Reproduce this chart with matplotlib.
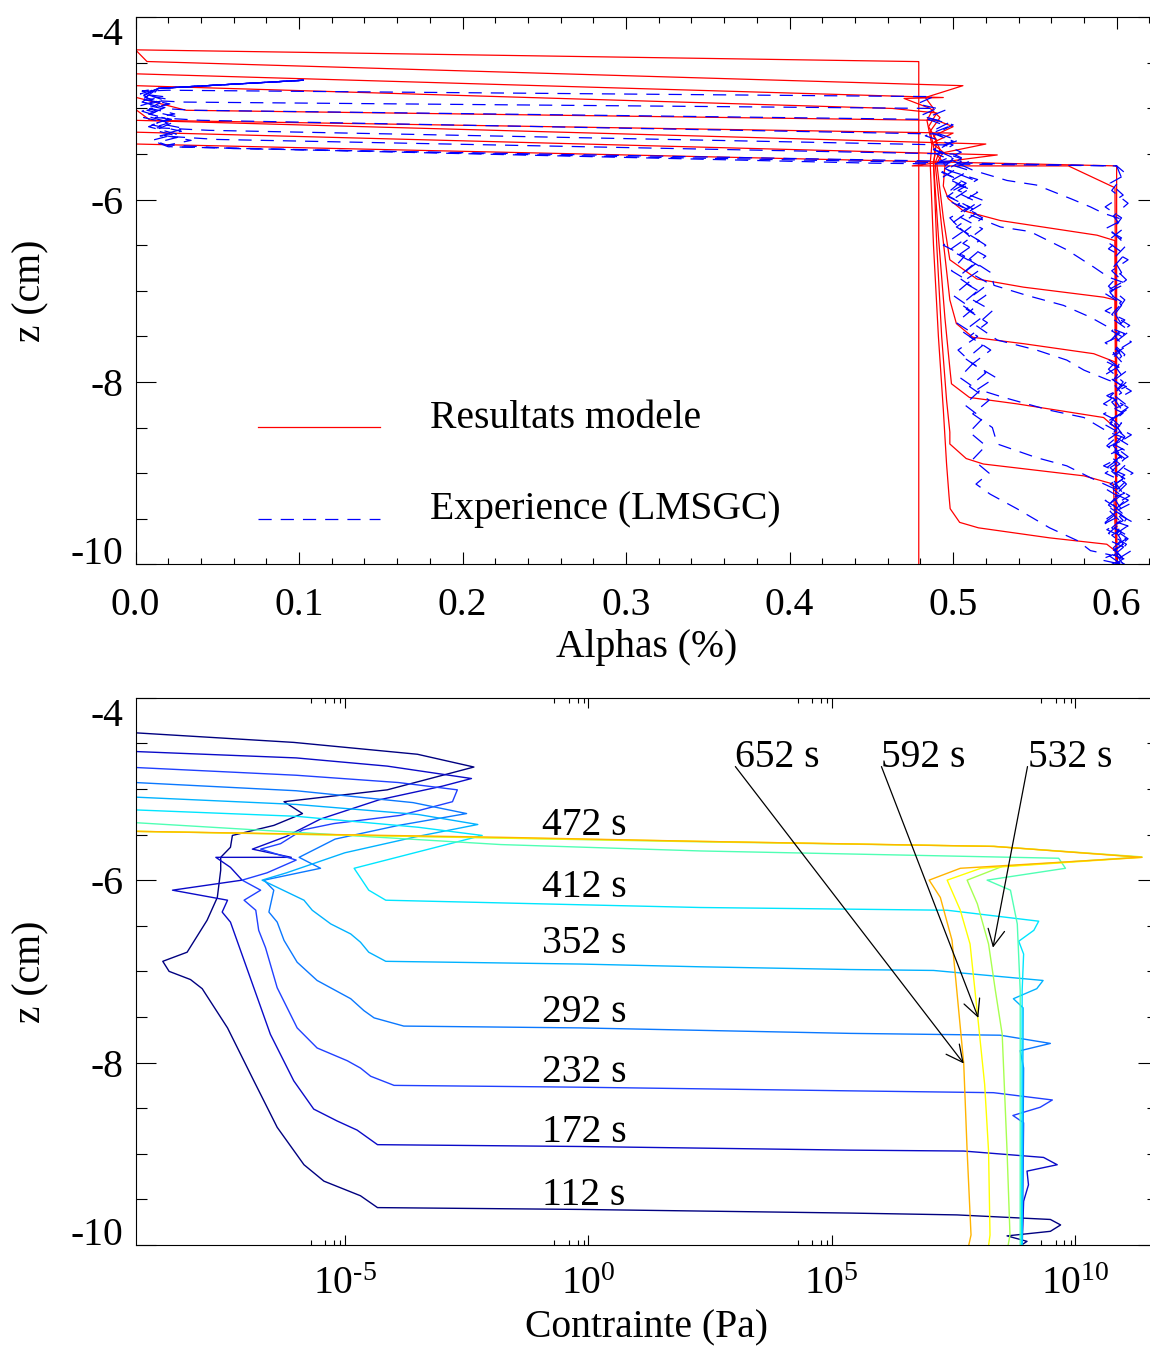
import numpy as np
import matplotlib
matplotlib.use('Agg')
from matplotlib import pyplot as plt
from matplotlib.ticker import FixedLocator, FixedFormatter, FormatStrFormatter, NullFormatter

plt.rcParams['font.family'] = ['Liberation Serif', 'DejaVu Serif']
plt.rcParams['mathtext.fontset'] = 'custom'
plt.rcParams['mathtext.rm'] = 'Liberation Serif'
plt.rcParams['axes.unicode_minus'] = False
plt.rcParams['lines.scale_dashes'] = False
FS = 28.5

# ---------------- top panel: alpha(z) profiles ----------------
# model (red), pairs of (alpha, z)
model_t0 = [(0.0, -4.0), (0.0, -4.357), (0.479, -4.486), (0.479, -10.0)]
model_112 = [(0.0, -4.0), (0.0, -4.357), (0.007, -4.485), (0.506, -4.75), (0.483, -4.88),
             (0.488, -5.0), (0.484, -5.13), (0.487, -5.4), (0.486, -5.6), (0.488, -6.5),
             (0.491, -7.5), (0.494, -8.3), (0.496, -8.9), (0.4975, -9.25), (0.4982, -9.39),
             (0.504, -9.54), (0.5155, -9.60), (0.559, -9.71), (0.594, -9.78), (0.599, -9.85),
             (0.6, -10.0)]
model_172 = [(0.0, -4.0), (0.0, -4.62), (0.494, -4.88), (0.470, -4.89), (0.486, -5.0),
             (0.492, -5.1), (0.486, -5.25), (0.489, -5.5), (0.488, -5.6), (0.490, -6.5),
             (0.493, -7.5), (0.496, -8.2), (0.498, -8.55), (0.498, -8.68), (0.508, -8.84),
             (0.5185, -8.90), (0.580, -9.03), (0.598, -9.12), (0.6, -10.0)]
model_232 = [(0.0, -4.0), (0.0, -4.75), (0.463, -5.0), (0.49, -5.05), (0.485, -5.2),
             (0.49, -5.35), (0.488, -5.6), (0.491, -6.4), (0.495, -7.3), (0.498, -7.85),
             (0.499, -8.02), (0.510, -8.17), (0.539, -8.24), (0.592, -8.39), (0.599, -8.50),
             (0.6, -10.0)]
model_292 = [(0.0, -4.0), (0.0, -4.877), (0.031, -5.02), (0.49, -5.13), (0.5, -5.2),
             (0.488, -5.3), (0.492, -5.45), (0.489, -5.6), (0.493, -6.3), (0.498, -7.1),
             (0.502, -7.36), (0.512, -7.51), (0.543, -7.58), (0.586, -7.69), (0.599, -7.78),
             (0.6, -10.0)]
model_352 = [(0.0, -4.0), (0.0, -5.01), (0.009, -5.13), (0.500, -5.27), (0.487, -5.38),
             (0.494, -5.48), (0.49, -5.6), (0.494, -6.2), (0.497, -6.55), (0.498, -6.66),
             (0.5145, -6.87), (0.543, -6.96), (0.592, -7.07), (0.599, -7.10), (0.6, -10.0)]
model_412 = [(0.0, -4.0), (0.0, -5.13), (0.520, -5.39), (0.49, -5.5), (0.495, -5.62),
             (0.494, -5.85), (0.497, -5.99), (0.506, -6.12), (0.529, -6.23), (0.588, -6.39),
             (0.599, -6.45), (0.6, -10.0)]
model_472 = [(0.0, -4.0), (0.0, -5.26), (0.527, -5.51), (0.475, -5.63), (0.5705, -5.63),
             (0.599, -5.87), (0.6, -10.0)]
model_532 = [(0.0, -4.0), (0.0, -5.39), (0.6, -5.63), (0.6, -10.0)]
model_profiles = [model_t0, model_112, model_172, model_232, model_292, model_352,
                  model_412, model_472, model_532]

# experience LMSGC (blue dashed), pairs of (alpha, z)
exp_112 = [(0.103, -4.69), (0.014, -4.78), (0.004, -4.81), (0.02, -4.80), (0.488, -4.87),
           (0.478, -4.95), (0.495, -5.02), (0.484, -5.10), (0.50, -5.18), (0.49, -5.27),
           (0.503, -5.35), (0.488, -5.45), (0.50, -5.55), (0.492, -5.68), (0.505, -5.8),
           (0.495, -5.95), (0.51, -6.08), (0.498, -6.2), (0.506, -6.35), (0.494, -6.5),
           (0.507, -6.62), (0.499, -6.78), (0.51, -6.9), (0.5, -7.05), (0.512, -7.2),
           (0.502, -7.35), (0.515, -7.5), (0.503, -7.65), (0.512, -7.8), (0.504, -7.95),
           (0.516, -8.1), (0.507, -8.25), (0.518, -8.4), (0.51, -8.55), (0.52, -8.7),
           (0.512, -8.85), (0.522, -9.0), (0.514, -9.12), (0.5226, -9.23), (0.539, -9.39),
           (0.559, -9.60), (0.576, -9.74), (0.584, -9.85), (0.597, -9.9), (0.59, -9.95),
           (0.603, -10.0)]
exp_172 = [(0.103, -4.69), (0.014, -4.78), (0.003, -4.84), (0.017, -4.87), (0.007, -4.91),
           (0.03, -4.93), (0.49, -5.0), (0.48, -5.08), (0.497, -5.16), (0.486, -5.26),
           (0.5, -5.36), (0.49, -5.46), (0.505, -5.58), (0.493, -5.7), (0.508, -5.82),
           (0.497, -5.96), (0.512, -6.1), (0.5, -6.25), (0.51, -6.4), (0.498, -6.55),
           (0.513, -6.7), (0.503, -6.85), (0.515, -7.0), (0.505, -7.15), (0.517, -7.3),
           (0.506, -7.45), (0.518, -7.6), (0.508, -7.75), (0.52, -7.9), (0.51, -8.05),
           (0.522, -8.2), (0.512, -8.35), (0.524, -8.5), (0.527, -8.68), (0.551, -8.83),
           (0.5695, -8.92), (0.584, -9.05), (0.596, -9.15), (0.605, -9.22), (0.593, -9.3),
           (0.602, -9.4), (0.594, -9.5), (0.607, -9.58), (0.597, -9.68), (0.604, -9.78),
           (0.595, -9.88), (0.606, -9.95), (0.6, -10.0)]
exp_232 = [(0.103, -4.69), (0.014, -4.78), (0.005, -4.85), (0.02, -4.9), (0.006, -4.96),
           (0.016, -5.0), (0.036, -5.02), (0.485, -5.12), (0.497, -5.2), (0.483, -5.3),
           (0.5, -5.4), (0.49, -5.5), (0.506, -5.62), (0.494, -5.75), (0.51, -5.88),
           (0.498, -6.02), (0.514, -6.15), (0.502, -6.3), (0.516, -6.45), (0.504, -6.6),
           (0.518, -6.75), (0.506, -6.9), (0.52, -7.05), (0.508, -7.2), (0.521, -7.35),
           (0.51, -7.5), (0.523, -7.65), (0.512, -7.8), (0.526, -7.95), (0.515, -8.08),
           (0.531, -8.17), (0.559, -8.31), (0.58, -8.39), (0.595, -8.55), (0.606, -8.62),
           (0.594, -8.72), (0.603, -8.82), (0.592, -8.92), (0.605, -9.02), (0.596, -9.12),
           (0.608, -9.25), (0.598, -9.35), (0.604, -9.45), (0.593, -9.55), (0.603, -9.65),
           (0.597, -9.75), (0.609, -9.85), (0.6, -9.95), (0.605, -10.0)]
exp_292 = [(0.103, -4.69), (0.014, -4.78), (0.008, -4.83), (0.004, -4.9), (0.021, -4.95),
           (0.009, -5.0), (0.024, -5.06), (0.012, -5.1), (0.04, -5.13), (0.49, -5.28),
           (0.5, -5.36), (0.488, -5.45), (0.505, -5.55), (0.495, -5.66), (0.512, -5.78),
           (0.5, -5.9), (0.515, -6.03), (0.503, -6.18), (0.518, -6.32), (0.506, -6.48),
           (0.52, -6.62), (0.508, -6.78), (0.522, -6.92), (0.51, -7.08), (0.524, -7.22),
           (0.514, -7.38), (0.527, -7.54), (0.551, -7.65), (0.5695, -7.76), (0.58, -7.87),
           (0.595, -7.98), (0.606, -8.05), (0.594, -8.15), (0.604, -8.25), (0.592, -8.35),
           (0.603, -8.45), (0.597, -8.58), (0.608, -8.7), (0.595, -8.8), (0.602, -8.9),
           (0.593, -9.0), (0.605, -9.1), (0.598, -9.22), (0.61, -9.32), (0.599, -9.42),
           (0.604, -9.52), (0.594, -9.62), (0.606, -9.72), (0.597, -9.82), (0.603, -9.92),
           (0.598, -10.0)]
exp_352 = [(0.103, -4.69), (0.014, -4.78), (0.006, -4.84), (0.016, -4.9), (0.003, -4.97),
           (0.013, -5.03), (0.005, -5.1), (0.02, -5.16), (0.011, -5.21), (0.045, -5.24),
           (0.495, -5.40), (0.505, -5.48), (0.492, -5.58), (0.51, -5.68), (0.498, -5.8),
           (0.515, -5.92), (0.503, -6.05), (0.518, -6.2), (0.507, -6.35), (0.52, -6.5),
           (0.51, -6.65), (0.523, -6.8), (0.525, -6.94), (0.545, -7.05), (0.5675, -7.16),
           (0.584, -7.29), (0.595, -7.4), (0.605, -7.47), (0.593, -7.57), (0.602, -7.67),
           (0.594, -7.78), (0.606, -7.88), (0.597, -8.0), (0.603, -8.12), (0.592, -8.24),
           (0.604, -8.34), (0.596, -8.46), (0.609, -8.58), (0.598, -8.7), (0.603, -8.82),
           (0.594, -8.94), (0.605, -9.06), (0.598, -9.18), (0.607, -9.3), (0.596, -9.42),
           (0.603, -9.54), (0.595, -9.66), (0.606, -9.78), (0.6, -9.9), (0.604, -10.0)]
exp_412 = [(0.103, -4.69), (0.014, -4.78), (0.01, -4.86), (0.004, -4.93), (0.018, -4.99),
           (0.008, -5.06), (0.022, -5.12), (0.01, -5.18), (0.028, -5.25), (0.015, -5.3),
           (0.05, -5.34), (0.5, -5.50), (0.51, -5.58), (0.497, -5.68), (0.515, -5.78),
           (0.503, -5.9), (0.52, -6.02), (0.508, -6.15), (0.529, -6.30), (0.547, -6.35),
           (0.5695, -6.55), (0.586, -6.74), (0.595, -6.85), (0.606, -6.92), (0.594, -7.02),
           (0.603, -7.12), (0.593, -7.22), (0.605, -7.32), (0.597, -7.44), (0.609, -7.56),
           (0.598, -7.68), (0.604, -7.8), (0.593, -7.92), (0.603, -8.04), (0.596, -8.16),
           (0.607, -8.28), (0.597, -8.4), (0.604, -8.52), (0.594, -8.64), (0.606, -8.76),
           (0.598, -8.88), (0.61, -9.0), (0.599, -9.12), (0.603, -9.24), (0.594, -9.36),
           (0.605, -9.48), (0.597, -9.6), (0.607, -9.72), (0.599, -9.84), (0.604, -9.94),
           (0.597, -10.0)]
exp_472 = [(0.103, -4.69), (0.014, -4.78), (0.006, -4.88), (0.02, -4.95), (0.007, -5.02),
           (0.025, -5.09), (0.013, -5.16), (0.03, -5.22), (0.016, -5.29), (0.034, -5.35),
           (0.02, -5.4), (0.06, -5.44), (0.5, -5.58), (0.5125, -5.68), (0.533, -5.79),
           (0.551, -5.84), (0.572, -5.99), (0.584, -6.08), (0.592, -6.15), (0.604, -6.22),
           (0.593, -6.32), (0.603, -6.42), (0.595, -6.54), (0.607, -6.66), (0.597, -6.78),
           (0.604, -6.9), (0.592, -7.02), (0.603, -7.14), (0.597, -7.26), (0.608, -7.38),
           (0.599, -7.5), (0.605, -7.62), (0.594, -7.74), (0.603, -7.86), (0.598, -7.98),
           (0.609, -8.1), (0.597, -8.22), (0.603, -8.34), (0.592, -8.46), (0.604, -8.58),
           (0.598, -8.7), (0.607, -8.82), (0.596, -8.94), (0.604, -9.06), (0.594, -9.18),
           (0.605, -9.3), (0.598, -9.42), (0.61, -9.54), (0.6, -9.66), (0.604, -9.78),
           (0.595, -9.9), (0.603, -10.0)]
exp_532 = [(0.103, -4.69), (0.014, -4.78), (0.005, -4.86), (0.015, -4.94), (0.004, -5.03),
           (0.02, -5.12), (0.008, -5.2), (0.025, -5.28), (0.01, -5.35), (0.02, -5.42),
           (0.45, -5.6), (0.6, -5.63), (0.606, -5.72), (0.596, -5.82), (0.604, -5.95),
           (0.593, -6.08), (0.603, -6.2), (0.597, -6.35), (0.606, -6.5), (0.598, -6.65),
           (0.603, -6.8), (0.595, -6.95), (0.605, -7.1), (0.599, -7.25), (0.604, -7.4),
           (0.596, -7.55), (0.605, -7.7), (0.6, -7.85), (0.606, -8.0), (0.597, -8.15),
           (0.603, -8.3), (0.596, -8.45), (0.605, -8.6), (0.599, -8.75), (0.606, -8.9),
           (0.597, -9.05), (0.603, -9.2), (0.595, -9.35), (0.606, -9.5), (0.6, -9.65),
           (0.605, -9.8), (0.597, -9.92), (0.602, -10.0)]
exp_592 = [(0.103, -4.69), (0.014, -4.78), (0.009, -4.84), (0.003, -4.92), (0.017, -5.0),
           (0.006, -5.08), (0.022, -5.16), (0.012, -5.24), (0.027, -5.31), (0.014, -5.37),
           (0.022, -5.42), (0.3, -5.53), (0.6, -5.63), (0.603, -5.76), (0.597, -5.9),
           (0.607, -6.04), (0.598, -6.18), (0.604, -6.32), (0.594, -6.46), (0.605, -6.6),
           (0.598, -6.74), (0.606, -6.88), (0.596, -7.02), (0.603, -7.16), (0.597, -7.3),
           (0.608, -7.44), (0.598, -7.58), (0.603, -7.72), (0.595, -7.86), (0.604, -8.0),
           (0.598, -8.14), (0.608, -8.28), (0.597, -8.42), (0.603, -8.56), (0.594, -8.7),
           (0.605, -8.84), (0.597, -8.98), (0.606, -9.12), (0.598, -9.26), (0.603, -9.4),
           (0.593, -9.54), (0.606, -9.68), (0.598, -9.82), (0.604, -9.94), (0.599, -10.0)]
exp_profiles = [exp_112, exp_172, exp_232, exp_292, exp_352, exp_412, exp_472,
                exp_532, exp_592]

# ---------------- bottom panel: stress (log10 Pa) vs z ----------------
times = [112, 172, 232, 292, 352, 412, 472, 532, 592, 652]
time_colors = ['#000080', '#0a0ac8', '#2040ff', '#0a78ff', '#00b2ff', '#00e6ff',
               '#50ffb4', '#a8ff50', '#ffff00', '#ffb400']

stress_112 = [(-9.3, -4.385), (-6.05, -4.49), (-3.51, -4.62), (-2.35, -4.76), (-4.13, -5.01),
              (-6.25, -5.14), (-5.87, -5.27), (-6.46, -5.40), (-7.31, -5.51), (-7.35, -5.64),
              (-7.55, -5.75), (-7.55, -5.89), (-7.62, -6.19), (-7.83, -6.44), (-8.24, -6.79),
              (-8.74, -6.89), (-8.61, -7.00), (-8.17, -7.09), (-7.93, -7.19), (-7.41, -7.62),
              (-6.87, -8.20), (-6.39, -8.71), (-5.84, -9.12), (-5.43, -9.30), (-4.68, -9.46),
              (-4.33, -9.59), (-0.16, -9.61), (5.38, -9.65), (7.57, -9.67), (9.49, -9.72),
              (9.70, -9.78), (9.49, -9.85), (8.60, -9.90), (9.01, -9.96), (8.87, -10.01)]
stress_172 = [(-9.3, -4.59), (-6.0, -4.66), (-4.13, -4.75), (-2.40, -4.886), (-3.0, -4.97),
              (-4.3, -5.12), (-5.5, -5.33), (-6.2, -5.52), (-6.9, -5.66), (-6.1, -5.75),
              (-7.65, -5.75), (-7.35, -5.86), (-7.11, -6.0), (-8.54, -6.11), (-7.41, -6.22),
              (-7.52, -6.35), (-7.35, -6.46), (-6.87, -7.18), (-6.53, -7.69), (-6.05, -8.20),
              (-5.64, -8.51), (-5.16, -8.64), (-4.75, -8.74), (-4.33, -8.90), (-0.16, -8.92),
              (5.38, -8.96), (7.71, -8.97), (9.35, -9.04), (9.63, -9.12), (9.01, -9.19),
              (9.04, -9.34), (8.94, -9.52), (8.91, -10.01)]
stress_232 = [(-9.3, -4.765), (-6.0, -4.85), (-3.9, -4.93), (-2.69, -5.01), (-2.79, -5.14),
              (-3.86, -5.29), (-5.23, -5.38), (-5.87, -5.45), (-6.32, -5.6), (-6.73, -5.66),
              (-6.0, -5.78), (-6.6, -5.92), (-7.11, -6.0), (-6.73, -6.11), (-7.07, -6.22),
              (-6.83, -6.33), (-6.77, -6.55), (-6.63, -6.74), (-6.39, -7.18), (-5.98, -7.62),
              (-5.57, -7.84), (-4.95, -7.98), (-4.68, -8.06), (-4.47, -8.15), (-3.99, -8.25),
              (-0.16, -8.27), (5.38, -8.31), (8.32, -8.33), (9.53, -8.41), (9.28, -8.49),
              (8.72, -8.58), (8.94, -8.66), (8.91, -10.01)]
stress_292 = [(-9.3, -4.93), (-6.0, -5.02), (-3.6, -5.15), (-2.50, -5.27), (-3.9, -5.40),
              (-5.2, -5.55), (-5.94, -5.75), (-5.50, -5.87), (-6.66, -6.0), (-6.46, -6.11),
              (-6.56, -6.35), (-6.39, -6.46), (-6.25, -6.66), (-5.98, -6.90), (-5.57, -7.10),
              (-4.88, -7.30), (-4.61, -7.43), (-4.40, -7.51), (-3.79, -7.60), (-0.16, -7.62),
              (5.38, -7.68), (8.46, -7.70), (9.49, -7.79), (8.87, -7.87), (8.94, -8.06),
              (8.91, -10.01)]
stress_352 = [(-9.3, -5.09), (-6.0, -5.17), (-3.5, -5.28), (-2.27, -5.39), (-3.5, -5.52),
              (-5.0, -5.70), (-6.2, -5.92), (-6.70, -6.0), (-5.84, -6.22), (-5.67, -6.33),
              (-5.29, -6.48), (-4.88, -6.59), (-4.68, -6.68), (-4.51, -6.79), (-4.16, -6.89),
              (-0.16, -6.92), (2.30, -6.95), (5.38, -6.98), (7.09, -6.99), (9.34, -7.10),
              (9.21, -7.19), (8.73, -7.30), (8.93, -7.40), (8.91, -10.01)]
stress_412 = [(-9.3, -5.23), (-6.0, -5.30), (-3.5, -5.42), (-2.18, -5.51), (-4.81, -5.87),
              (-4.51, -6.11), (-4.16, -6.22), (-0.16, -6.27), (2.30, -6.30), (7.37, -6.33),
              (9.25, -6.45), (9.15, -6.55), (8.84, -6.67), (8.94, -6.81), (8.91, -7.21),
              (8.90, -10.01)]
stress_472 = [(-9.3, -5.37), (-1.80, -5.61), (2.30, -5.68), (9.66, -5.76), (9.80, -5.87),
              (8.19, -6.0), (8.67, -6.11), (8.81, -6.48), (8.87, -7.21), (8.87, -10.01)]
stress_532 = [(-9.3, -5.465), (2.30, -5.58), (8.33, -5.63), (11.37, -5.745), (8.5, -5.85),
              (7.78, -6.0), (7.99, -6.26), (8.22, -6.70), (8.36, -7.21), (8.50, -7.69),
              (8.60, -8.97), (8.66, -9.89), (8.62, -10.01)]
stress_592 = [(-9.3, -5.465), (2.30, -5.575), (8.33, -5.63), (11.37, -5.75), (8.06, -5.87),
              (7.37, -6.0), (7.64, -6.33), (7.84, -6.70), (8.0, -7.51), (8.14, -8.24),
              (8.22, -8.97), (8.25, -9.89), (8.22, -10.01)]
stress_652 = [(-9.3, -5.465), (-1.80, -5.53), (2.30, -5.575), (8.33, -5.63), (11.37, -5.75),
              (7.64, -5.87), (7.0, -6.0), (7.23, -6.19), (7.47, -6.66), (7.71, -8.01),
              (7.78, -8.97), (7.86, -9.89), (7.81, -10.01)]
stress_profiles = [stress_112, stress_172, stress_232, stress_292, stress_352, stress_412,
                   stress_472, stress_532, stress_592, stress_652]

# time labels along the curves (log10 stress, z)
label_times = [112, 172, 232, 292, 352, 412, 472]
label_log = [-0.95] * 7
label_z = [-9.56, -8.87, -8.21, -7.55, -6.80, -6.19, -5.50]

# arrow labels: text/tail (log10, z) and tip (log10, z)
arrow_times = [652, 592, 532]
arrow_tail = [(3.02, -4.755), (6.02, -4.755), (9.02, -4.755)]
arrow_tip = [(7.71, -8.01), (8.01, -7.51), (8.31, -6.74)]

# ---------------- figure ----------------
fig = plt.figure(figsize=(11.5, 13.47), dpi=100)
ax1 = fig.add_axes([0.11783, 0.58107, 0.8887, 0.40609])
ax2 = fig.add_axes([0.11783, 0.07572, 0.8887, 0.40631])

for prof in model_profiles:
    a, z = zip(*prof)
    ax1.plot(a, z, color='#ff0000', lw=0.9)
for i, prof in enumerate(exp_profiles):
    a, z = zip(*prof)
    ax1.plot(a, z, color='#0000ff', lw=0.9, ls=(2.5 * i, (9.5, 6.5)))

ax1.set_xlim(0, 0.625)
ax1.set_ylim(-10, -4)
ax1.xaxis.set_major_locator(FixedLocator([0.0, 0.1, 0.2, 0.3, 0.4, 0.5, 0.6]))
ax1.xaxis.set_minor_locator(FixedLocator(np.arange(0.02, 0.625, 0.02)))
ax1.xaxis.set_major_formatter(FormatStrFormatter('%.1f'))
ax1.set_xlabel('Alphas (%)', fontsize=FS)
ax1.xaxis.set_label_coords(0.5, -0.1177)

# legend drawn as IDL did it, keys in axes fraction
ax1.plot([0.1199, 0.2392], [0.251, 0.251], transform=ax1.transAxes, color='#ff0000', lw=0.9)
ax1.plot([0.1199, 0.2392], [0.0828, 0.0828], transform=ax1.transAxes, color='#0000ff',
         lw=0.9, ls=(0, (9.5, 6.5)))
ax1.text(0.288, 0.249, 'Resultats modele', transform=ax1.transAxes, fontsize=FS,
         va='baseline', ha='left')
ax1.text(0.288, 0.0828, 'Experience (LMSGC)', transform=ax1.transAxes, fontsize=FS,
         va='baseline', ha='left')

for prof, col in zip(stress_profiles, time_colors):
    s, z = zip(*prof)
    ax2.plot(10.0 ** np.array(s), z, color=col, lw=1.0)

for t, lx, lz in zip(label_times, label_log, label_z):
    ax2.text(10.0 ** lx, lz, f'{t} s', fontsize=FS, ha='left', va='baseline')
for t, tail, tip in zip(arrow_times, arrow_tail, arrow_tip):
    ax2.text(10.0 ** tail[0], tail[1], f'{t} s', fontsize=FS, ha='left', va='baseline')
    ax2.annotate('', xy=(10.0 ** tip[0], tip[1]), xytext=(10.0 ** tail[0], tail[1]),
                 arrowprops=dict(arrowstyle='->,head_length=0.6,head_width=0.3',
                                 color='black', lw=0.9, shrinkA=0, shrinkB=0,
                                 mutation_scale=20))

ax2.set_xscale('log')
ax2.set_xlim(10 ** -9.3, 10 ** 11.69)
ax2.set_ylim(-10, -4)
ax2.xaxis.set_major_locator(FixedLocator([1e-5, 1e0, 1e5, 1e10]))
ax2.xaxis.set_major_formatter(FixedFormatter([r'$\mathregular{10^{\text{-}5}}$',
                                              r'$\mathregular{10^{0}}$',
                                              r'$\mathregular{10^{5}}$',
                                              r'$\mathregular{10^{10}}$']))
ax2.xaxis.set_minor_locator(FixedLocator([m * 10.0 ** (k - 1) for k in (-5, 0, 5, 10)
                                          for m in (2, 4, 6, 8)]))
ax2.xaxis.set_minor_formatter(NullFormatter())
ax2.set_xlabel('Contrainte (Pa)', fontsize=FS)
ax2.xaxis.set_label_coords(0.5, -0.1177)

for ax in (ax1, ax2):
    ax.yaxis.set_major_locator(FixedLocator([-10, -8, -6, -4]))
    ax.yaxis.set_minor_locator(FixedLocator(np.arange(-9.5, -4.0, 0.5)))
    ax.yaxis.set_major_formatter(FormatStrFormatter('%d'))
    ax.set_ylabel('z (cm)', fontsize=FS)
    ax.yaxis.set_label_coords(-0.0846, 0.5)
    ax.tick_params(which='both', direction='in', top=True, right=True, width=0.8,
                   labelsize=FS)
    ax.tick_params(axis='y', which='major', length=14.4, pad=8.6)
    ax.tick_params(axis='y', which='minor', length=7.7)
    for sp in ax.spines.values():
        sp.set_linewidth(0.8)
    # IDL keeps the end labels inside the axis span
    yticks = ax.yaxis.get_major_ticks()
    yticks[0].label1.set_verticalalignment('baseline')
    yticks[-1].label1.set_verticalalignment('top')

ax1.tick_params(axis='x', which='major', length=8.4, pad=16.5)
ax1.tick_params(axis='x', which='minor', length=4.3)
ax2.tick_params(axis='x', which='major', length=7.2, pad=15)
ax2.tick_params(axis='x', which='minor', length=3.6)

fig.savefig('out.png', dpi=100, facecolor='white')
